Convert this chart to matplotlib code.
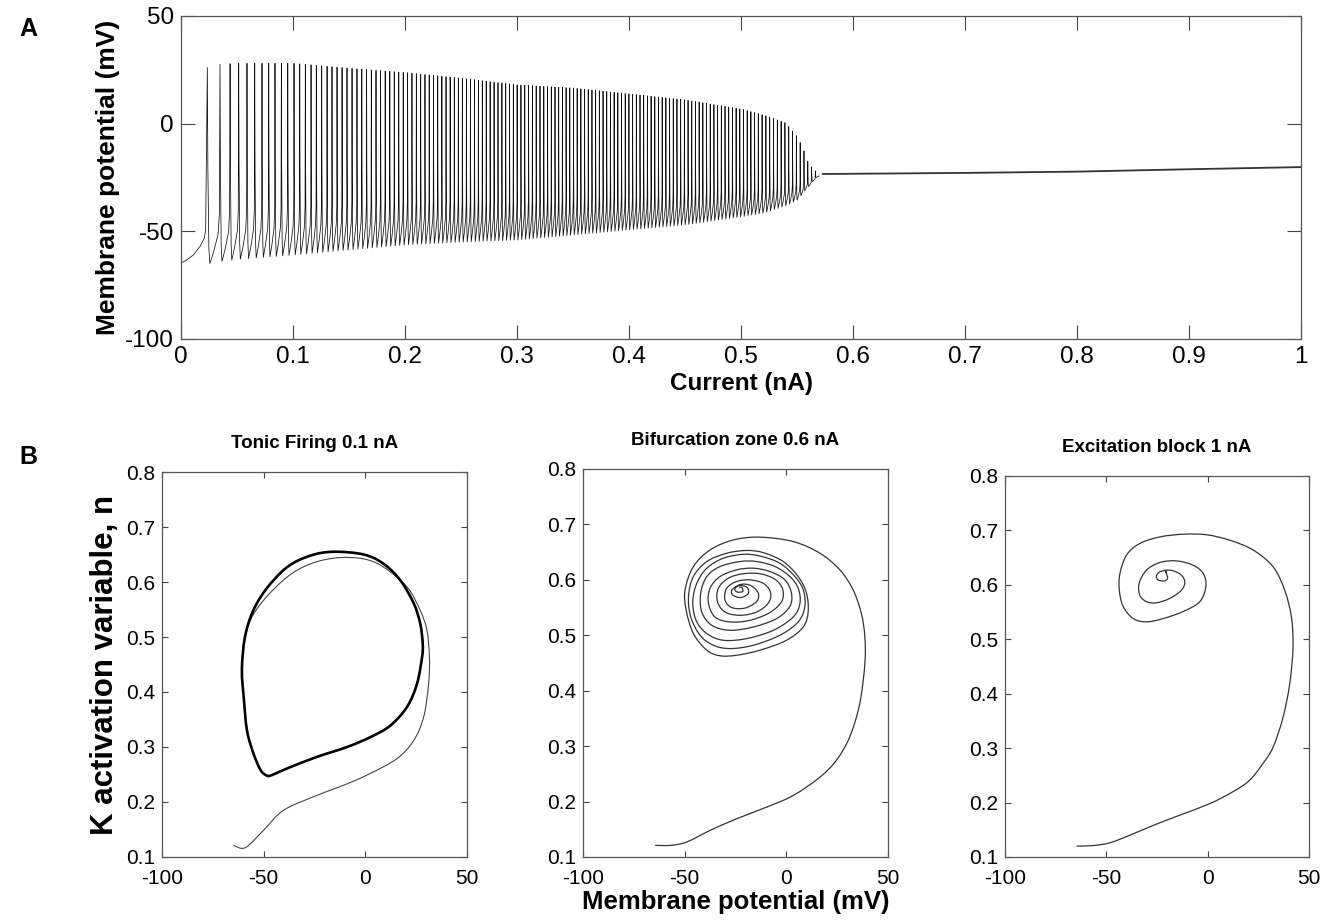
import numpy as np
import matplotlib
matplotlib.use('Agg')
from matplotlib import pyplot as plt
from matplotlib.path import Path
from matplotlib.patches import PathPatch

# ---- panel A: membrane potential vs injected current ----
ONSET_I = [0.0, 0.005, 0.011, 0.017, 0.0208, 0.022]
ONSET_V = [-64.7, -63.4, -61.0, -57.0, -53.2, -49.3]

SPIKE_I = [0.0235, 0.0348, 0.0438, 0.0515, 0.0589, 0.0658, 0.0723, 0.0783, 0.0839, 0.0896,
           0.0953, 0.1009, 0.1060, 0.1110, 0.1161, 0.1208, 0.1256, 0.1304, 0.1348, 0.1393,
           0.1438, 0.1482, 0.1527, 0.1571, 0.1614, 0.1657, 0.1699, 0.1741, 0.1782, 0.1823,
           0.1864, 0.1904, 0.1944, 0.1984, 0.2023, 0.2062, 0.2101, 0.2140, 0.2178, 0.2216,
           0.2254, 0.2292, 0.2329, 0.2366, 0.2403, 0.2440, 0.2476, 0.2512, 0.2548, 0.2584,
           0.2620, 0.2655, 0.2690, 0.2725, 0.2760, 0.2795, 0.2830, 0.2865, 0.2899, 0.2933,
           0.2967, 0.3001, 0.3035, 0.3069, 0.3103, 0.3137, 0.3171, 0.3205, 0.3239, 0.3273,
           0.3306, 0.3339, 0.3372, 0.3405, 0.3438, 0.3471, 0.3504, 0.3537, 0.3570, 0.3603,
           0.3636, 0.3669, 0.3702, 0.3735, 0.3768, 0.3801, 0.3834, 0.3867, 0.3900, 0.3933,
           0.3966, 0.3999, 0.4032, 0.4065, 0.4098, 0.4131, 0.4164, 0.4197, 0.4230, 0.4263,
           0.4296, 0.4329, 0.4362, 0.4395, 0.4428, 0.4461, 0.4494, 0.4527, 0.4560, 0.4593,
           0.4626, 0.4659, 0.4692, 0.4725, 0.4758, 0.4791, 0.4824, 0.4857, 0.4890, 0.4923,
           0.4956, 0.4989, 0.5022, 0.5055, 0.5088, 0.5121, 0.5154, 0.5188, 0.5222, 0.5256,
           0.5290, 0.5324, 0.5358, 0.5392, 0.5426, 0.5460, 0.5494, 0.5528, 0.5562, 0.5596,
           0.5630, 0.5664, 0.5698]

# envelope of spike peaks / troughs
ENV_I = [0.0235, 0.035, 0.05, 0.10, 0.15, 0.20, 0.25, 0.30, 0.35, 0.40, 0.45, 0.50,
         0.52, 0.54, 0.55, 0.555, 0.56, 0.565, 0.57]
ENV_PEAK = [26, 27.5, 28, 28, 25.7, 23.7, 21.1, 18, 16.5, 13.8, 11, 6.8,
            4, 0.3, -6, -11, -18, -21.5, -23.2]
ENV_TROUGH = [-65, -64, -63, -61, -58.6, -56.3, -55, -54, -51.7, -49.3, -47, -43.2,
              -41.5, -38, -35.4, -32, -29, -25.5, -23.6]

# one spike cycle (fraction of interval, fraction of trough->peak), read from first spikes
SHAPE_PHASE = [0.0, 0.04, 0.12, 0.2, 0.5, 0.85, 0.95]
SHAPE_LEVEL = [1.0, 0.5, 0.08, 0.0, 0.06, 0.15, 0.25]

# depolarisation block plateau
FLAT_I = [0.573, 0.6, 0.7, 0.8, 0.9, 1.0]
FLAT_V = [-23.4, -23.3, -22.9, -22.3, -21.2, -20.2]

# ---- panel B: phase plane trajectories (V in mV, n) ----
TONIC_TR_V = [-64.8, -59, -50.2, -40.2, -23.8, -9, 2.5, 15.6, 23.8, 28.7, 31.1, 31.5,
              30.3, 27, 20.5, 9, -0.8, -14, -27, -38.5, -50, -56.6, -59.8, -61]
TONIC_TR_N = [0.121, 0.117, 0.148, 0.185, 0.212, 0.233, 0.252, 0.279, 0.312, 0.355, 0.415, 0.464,
              0.512, 0.548, 0.591, 0.627, 0.642, 0.644, 0.633, 0.609, 0.567, 0.530, 0.488, 0.439]

TONIC_LC_V = [-60.7, -59.8, -58.2, -55, -51.5, -48.4, -45.9, -38.5, -23.8, -9, 2.5, 12.3,
              20.5, 25.4, 27.9, 28.2, 27, 23.8, 17.2, 9, -0.8, -15.6, -27, -38.5,
              -49, -55.5, -59.3, -60.7]
TONIC_LC_N = [0.44, 0.39, 0.33, 0.288, 0.258, 0.248, 0.249, 0.261, 0.282, 0.3, 0.318, 0.339,
              0.373, 0.415, 0.464, 0.488, 0.524, 0.561, 0.603, 0.633, 0.65, 0.655, 0.648, 0.627,
              0.586, 0.545, 0.498, 0.44]

BIF_V = [-64.5, -57.1, -49, -37.5, -24.4, -9.7, 3.4, 16.5, 24.7, 31.2, 36.1, 38.6, 38.6, 36.9,
         32.8, 26.3, 16.5, 3.4, -13, -26,
         -37.5, -45.7, -49.8, -49.3, -45.7, -39.1, -32.6, -24.4, -13, 0.1, 8.3, 10.7, 9.9, 5.8,
         -1.5, -11.3, -19.5,
         -29.3, -39.1, -45.7, -48.1, -47, -42.4, -35.9, -27.7, -16.2, -3.2, 5.8, 9.1, 8.3, 4.2,
         -3.2, -13, -21.2,
         -31, -39.1, -44, -46, -44.4, -39.1, -31, -19.5, -6.4, 3.4, 6.7, 5.8, 1.7, -5.6, -14.6, -22.8,
         -32.6, -39.1, -42.1, -41.6, -36.7, -27.7, -16.2, -4.8, 1.7, 2.5, -0.7, -8.1, -16.2, -24.4,
         -32.6, -37.5, -38.3, -35.1, -27.7, -17.9, -8.1, -2.3, -1.8, -5.6, -13, -21.2,
         -28.5, -33.4, -33.9, -30.2, -22.8, -14.6, -8.9, -7.7, -11, -17.9, -24.4,
         -29.3, -30.2, -26.9, -20.4, -14.6, -13.8, -17.1, -22,
         -26.5, -26.5, -22.5, -18.8, -19.2, -23, -25.3, -24.2, -21.5, -21.8, -23.3]
BIF_N = [0.121, 0.121, 0.127, 0.148, 0.169, 0.19, 0.211, 0.244, 0.275, 0.317, 0.377, 0.449, 0.497, 0.539,
         0.582, 0.618, 0.648, 0.669, 0.677, 0.672,
         0.654, 0.624, 0.582, 0.546, 0.503, 0.473, 0.463, 0.464, 0.473, 0.491, 0.515, 0.542, 0.576, 0.606,
         0.633, 0.649, 0.653,
         0.648, 0.633, 0.606, 0.570, 0.533, 0.500, 0.482, 0.476, 0.482, 0.5, 0.524, 0.552, 0.582, 0.606,
         0.630, 0.643, 0.646,
         0.639, 0.621, 0.594, 0.561, 0.527, 0.503, 0.491, 0.494, 0.509, 0.533, 0.558, 0.585, 0.606, 0.624, 0.633, 0.633,
         0.624, 0.606, 0.576, 0.542, 0.518, 0.509, 0.515, 0.530, 0.552, 0.576, 0.600, 0.615, 0.621, 0.618,
         0.606, 0.585, 0.558, 0.533, 0.524, 0.527, 0.541, 0.561, 0.583, 0.601, 0.611, 0.611,
         0.603, 0.585, 0.561, 0.542, 0.536, 0.542, 0.558, 0.576, 0.593, 0.600, 0.597,
         0.585, 0.564, 0.55, 0.549, 0.561, 0.576, 0.589, 0.592,
         0.583, 0.573, 0.568, 0.575, 0.586, 0.590, 0.584, 0.578, 0.579, 0.586, 0.587]

BLOCK_V = [-64.7, -56.5, -48.3, -38.4, -26.9, -13.7, 1, 12.5, 20.7, 27.3, 32.3, 37.2, 40.5, 42.1,
           41.3, 38, 32.3, 22.4, 10.9, -0.6, -12.1, -23.6, -33.5, -40, -43.3, -43.6, -41.7, -36.7,
           -30.2, -22, -12.1, -3.9, -0.9, -2.2, -7.2, -15.4, -23.6, -30.2, -33.8, -33.5, -30.2,
           -25.3, -18.7, -13, -11.3, -13.7, -18.7, -23.5, -25.3, -24.5, -21.5, -19.8, -20.3,
           -20.8, -20.3]
BLOCK_N = [0.120, 0.121, 0.126, 0.140, 0.158, 0.177, 0.198, 0.220, 0.241, 0.272, 0.302, 0.357, 0.419, 0.486,
           0.541, 0.590, 0.633, 0.664, 0.682, 0.692, 0.693, 0.688, 0.676, 0.655, 0.621, 0.590, 0.560, 0.538,
           0.532, 0.538, 0.551, 0.569, 0.597, 0.621, 0.636, 0.644, 0.641, 0.627, 0.603, 0.581, 0.569,
           0.567, 0.575, 0.590, 0.606, 0.620, 0.627, 0.624, 0.616, 0.609, 0.607, 0.612, 0.620,
           0.626, 0.622]

PANEL_TITLES = ['Tonic Firing 0.1 nA', 'Bifurcation zone 0.6 nA', 'Excitation block 1 nA']

plt.rcParams['font.family'] = ['Liberation Sans', 'DejaVu Sans']
plt.rcParams['axes.unicode_minus'] = False


def smooth_path(xs, ys, closed=False):
    # draw a smooth curve through the read points (cubic bezier segments)
    pts = np.column_stack([xs, ys]).astype(float)
    if closed:
        ext = np.vstack([pts[-2], pts, pts[1]])
    else:
        ext = np.vstack([pts[0], pts, pts[-1]])
    verts = [pts[0]]
    codes = [Path.MOVETO]
    for i in range(len(pts) - 1):
        p0, p1, p2, p3 = ext[i], ext[i + 1], ext[i + 2], ext[i + 3]
        verts += [p1 + (p2 - p0) / 6, p2 - (p3 - p1) / 6, p2]
        codes += [Path.CURVE4] * 3
    return Path(verts, codes)


def style_axes(ax, ticklen, labelsize, xpad=5):
    ax.tick_params(direction='in', top=True, right=True, length=ticklen, width=0.8,
                   labelsize=labelsize, pad=5, color='#444')
    ax.tick_params(axis='x', pad=xpad)
    for s in ax.spines.values():
        s.set_color('#555')
        s.set_linewidth(0.9)


fig = plt.figure(figsize=(13.31, 9.21), dpi=100)

# ---------------- panel A ----------------
axA = fig.add_axes([0.136, 0.632, 0.8415, 0.3507])

peaks = np.interp(SPIKE_I, ENV_I, ENV_PEAK)
troughs = np.interp(SPIKE_I, ENV_I, ENV_TROUGH)
trace_i = list(ONSET_I)
trace_v = list(ONSET_V)
for k in range(len(SPIKE_I) - 1):
    isi = SPIKE_I[k + 1] - SPIKE_I[k]
    for ph, lv in zip(SHAPE_PHASE, SHAPE_LEVEL):
        trace_i.append(SPIKE_I[k] + ph * isi)
        trace_v.append(troughs[k] + lv * (peaks[k] - troughs[k]))

axA.plot(trace_i, trace_v, color='#111', lw=0.55)
axA.plot(FLAT_I, FLAT_V, color='#333', lw=1.3)
axA.set_xlim(0, 1)
axA.set_ylim(-100, 50)
axA.set_xticks(np.arange(0, 1.01, 0.1))
axA.set_xticklabels(['0', '0.1', '0.2', '0.3', '0.4', '0.5', '0.6', '0.7', '0.8', '0.9', '1'])
axA.set_yticks([-100, -50, 0, 50])
style_axes(axA, 10, 17.5)
axA.set_xlabel('Current (nA)', fontsize=17.5, fontweight='bold', labelpad=3)
axA.set_ylabel('Membrane potential (mV)', fontsize=19, fontweight='bold', labelpad=4)

# ---------------- panel B ----------------
boxes = [[0.1217, 0.0695, 0.2292, 0.418],
         [0.438, 0.0695, 0.2292, 0.4213],
         [0.7551, 0.0695, 0.2284, 0.4137]]
axes_b = [fig.add_axes(b) for b in boxes]

ax = axes_b[0]
ax.add_patch(PathPatch(smooth_path(TONIC_TR_V, TONIC_TR_N), fill=False, color='#444', lw=0.8))
ax.add_patch(PathPatch(smooth_path(TONIC_LC_V, TONIC_LC_N, closed=True), fill=False,
                       color='black', lw=1.9))
axes_b[1].add_patch(PathPatch(smooth_path(BIF_V, BIF_N), fill=False, color='#333', lw=0.9))
axes_b[2].add_patch(PathPatch(smooth_path(BLOCK_V, BLOCK_N), fill=False, color='#333', lw=0.9))

for ax, title in zip(axes_b, PANEL_TITLES):
    ax.set_xlim(-100, 50)
    ax.set_ylim(0.1, 0.8)
    ax.set_xticks([-100, -50, 0, 50])
    ax.set_yticks(np.arange(0.1, 0.81, 0.1))
    ax.set_yticklabels(['0.1', '0.2', '0.3', '0.4', '0.5', '0.6', '0.7', '0.8'])
    style_axes(ax, 4, 15, xpad=9)
    ax.set_title(title, fontsize=13.5, fontweight='bold', pad=17)

axes_b[0].set_ylabel('K activation variable, n', fontsize=22.5, fontweight='bold', labelpad=4)
fig.text(0.5526, 0.021, 'Membrane potential (mV)', fontsize=18.5, fontweight='bold',
         ha='center', va='center')

fig.text(0.021, 0.969, 'A', fontsize=18, fontweight='bold', ha='center', va='center')
fig.text(0.021, 0.504, 'B', fontsize=18, fontweight='bold', ha='center', va='center')

fig.savefig('out.png', dpi=100)
